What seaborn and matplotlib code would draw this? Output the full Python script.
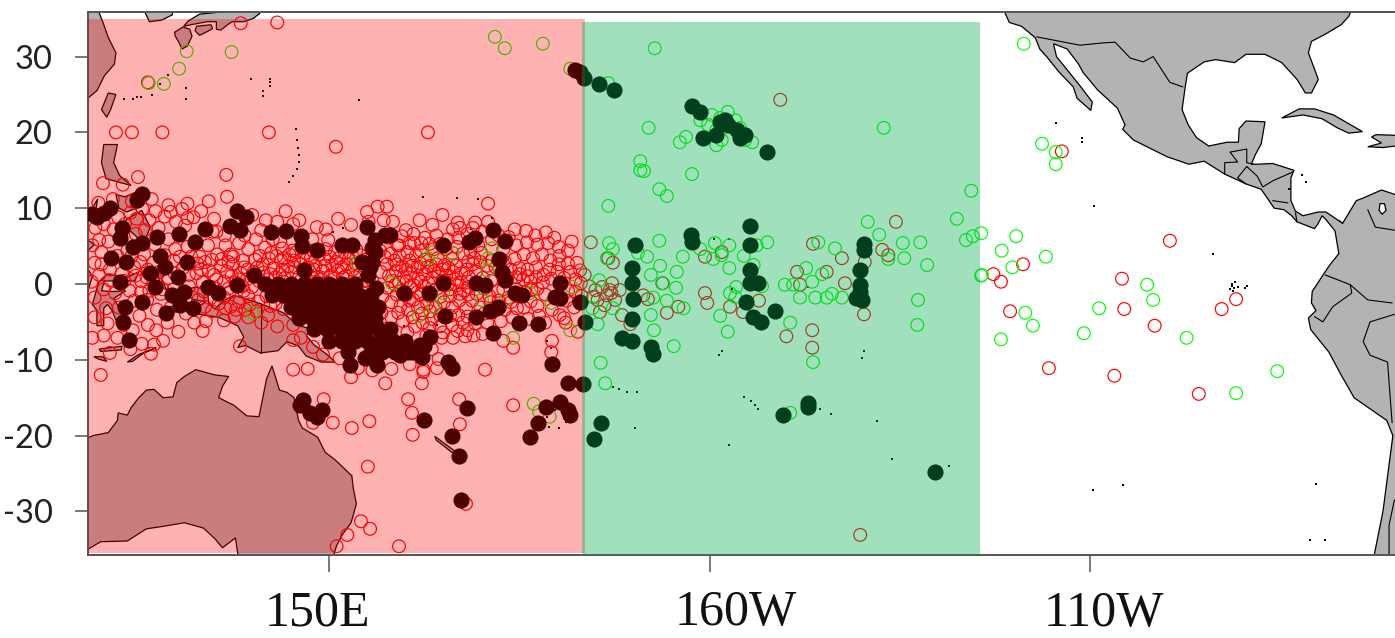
#!/usr/bin/env python3
"""Map of tropical Pacific stations: open circles, filled clusters and two shaded basins."""

import matplotlib
matplotlib.use("Agg")
import matplotlib.pyplot as plt
import pandas as pd
import seaborn as sns
from matplotlib.patches import Polygon, Rectangle

# longitudes run 0-360 so the date line sits in the middle
red_far = [
    (138.4, 34.4), (143.2, 34.5), (126.2, 26.6), (122, 20), (124.1, 20), (128.1, 20), (142.1, 20), (150.9, 18.1),
    (163, 20), (136.5, 14.4), (136.6, 11.5), (124.9, 14.1), (120.3, 13.3), (122.9, 13.1), (144.3, 9.6), (155, 9.5),
    (156.4, 10.2), (157.6, 10.2), (151.2, 8.6), (148.4, 7.5), (120, -12), (138.3, -8.2), (145.3, -11.3),
    (145.3, -7.4), (137.1, -3), (142, -4.1), (132.3, -5.1), (127.3, -6.1), (124.2, -6.1), (127, -8), (152.9, -12.3),
    (157.4, -13.1), (162.2, -13.1), (160.4, -15.2), (160.9, -17), (161, -19.9), (155.3, -18.1), (153, -19),
    (150.5, -18.3), (147.9, -18.3), (149.3, -15.2), (155.1, -24.1), (154.2, -31.3), (155.4, -32.3), (152.4, -33.1),
    (151, -34.6), (159.2, -34.6), (162.4, -11.3), (168, -29), (170.9, 10.6), (170.5, -11.3), (164.2, -11.1),
    (162.4, -11.6), (174.2, -16), (167.1, -15.2), (167.2, -18.5), (179.3, -7.5), (179.2, -9), (174.2, -8.4),
    (172.9, -7.5), (182.7, -6.3), (180.9, -4.5), (146.7, -15.6), (147.2, -11.2),
]
red_east = [
    (209.3, 24.3), (219.8, -33.1), (184.4, 5.5), (187.3, 2.8), (186.7, 3.4), (183.6, 1.2), (201.6, 4.2), (199.4, 3.6),
    (187.2, 0.1), (186.5, -1.5), (184.7, -1.7), (188.2, -0.8), (185.9, -0.4), (193.8, 0.1), (191.3, -1.5), (191.9, -2),
    (188.5, -4.1), (189.6, -5.3), (194.4, -3.8), (195.9, -3), (185.6, -3.7), (199.4, -1.2), (199.7, -2.5), (202.7, -3),
    (204.4, -3.7), (206.5, -2.2), (213.6, 5.3), (211.5, 1.6), (211.9, -0.1), (215.4, 1.6), (217.4, 3.4), (222.7, 4.5),
    (223.5, 3.8), (224.5, 8.2), (220.4, 2.9), (217.8, 0.1), (220.3, -4), (210.1, -6.9), (213.5, -6.1), (213.5, -8.4),
    (185, -0.8), (186.9, -0.8), (187.6, -2.1), (185.3, -2.1), (186.2, -2.8), (187.1, -1.2), (184.2, -0.3),
    (246.3, 17.5), (260.5, 5.7), (254.2, 0.7), (241.2, 2.6), (237.3, 1.3), (238.3, 0.3), (239.5, -3.6), (254.5, -3.3),
    (258.5, -5.5), (267.3, -3.3), (269.2, -2), (244.6, -11.1), (253.2, -12.1), (264.3, -14.5),
]
red_band_west = [
    (118.6, 9.2), (119.3, 7.4), (119.8, 5.8), (120.4, 7.9), (118.9, 5.1), (120.1, 4.2), (119.2, 2.8), (121, 5.6),
    (121.7, 7.2), (122.3, 8.8), (123.2, 7.9), (123.9, 9.4), (124.7, 8.6), (125.5, 9.9), (126.4, 8.4), (127.2, 9.6),
    (125.8, 7.1), (124.6, 6.6), (127.6, 7.4), (128.4, 8.9), (129.2, 9.5), (129.9, 8.2), (130.7, 9.9), (131.4, 8.7),
    (132.2, 8.8), (131.1, 7.7), (128.9, 5.9), (127.1, 5.2), (125.7, 3.9), (123.5, 4.4), (122.2, 3.7), (121.2, 1.9),
    (119.8, 1.2), (122.8, 1.4), (124.4, 2.2), (126.2, 1.9), (128.4, 3.8), (129.8, 4.6), (131.4, 4.9), (133, 3.6),
    (134.1, 5.1), (135.3, 3.9), (136.4, 5.1), (135.8, 2.4), (134.2, 1.8), (132.6, 1.4), (130.8, 2.1), (128.9, 0.8),
    (127.2, 0.6), (125.3, 0.4), (123.8, -0.9), (121.9, -1.2), (120.4, -0.7), (119.2, -1.8), (120.7, -3.2),
    (122.4, -3.1), (124.4, -2.2), (126.1, -2.1), (127.9, -1.3), (129.6, -0.7), (131.6, -0.3), (133.4, 0.2),
    (135.2, 0.6), (136.6, 1.6), (132.8, -2.1), (134.4, -1.9), (136.2, -1.8), (127.4, -3.4), (129.2, -3.1),
    (131.2, -3.9), (125.1, -4.2), (123, -5.4), (120.9, -5.2), (126.2, -5.4), (128.8, -5.1), (134.6, -3.6),
    (136.4, -3.2), (138.2, -2.4), (139.6, -2.7), (138.8, -0.9), (130.2, -6.3), (133.8, -4.9), (122.2, -7.1),
    (125.4, -7.9), (121.2, -9.1), (126.6, -9.2), (128.2, -7.5), (133.4, -6.2), (136.2, -4.8),
    (133.2, 9.6), (134.9, 8.6), (135.2, 6.9), (136.3, 6.4), (134.7, 6.9), (137.1, 3.9), (138.2, 5.4), (139.4, 4.6),
    (140.4, 5.9), (141.6, 4.8), (142.6, 5.9), (143.9, 4.7), (145.2, 4.4), (140.3, 3.2), (142.1, 3.4), (143.7, 3.1),
]
red_band_mid = [
    (137.4, 2.6), (138.7, 3.1), (139.3, 1.9), (140.6, 2.2), (141.4, 1.5), (142.7, 2.1), (143.5, 1.3), (144.6, 2.3),
    (145.4, 3.1), (146.3, 2.6), (147.6, 3.4), (148.2, 2.4), (149.4, 3.3), (150.4, 2.5), (151.3, 3.4), (152.3, 2.6),
    (153.2, 3.5), (154.1, 3.8), (146.9, 4.1), (149.6, 4.6), (150.8, 4.2), (152.1, 4.1), (153.6, 4.5), (154.8, 3.2),
    (137.2, 1.1), (138.4, 1.4), (139.2, 0.6), (140.2, 1), (141.9, 0.6), (143, 0.9), (144.2, 0.8), (145.1, 1.6),
    (146.1, 1), (147.5, 1.6), (148.4, 0.9), (149.2, 1.7), (150.2, 1.1), (151.2, 1.8), (152.2, 1.1), (153.1, 1.9),
    (154.1, 1.3), (136.8, -0.6), (138.6, -0.3), (139.9, -0.4), (137.4, 3.6), (143.6, 5.6), (147.8, 5.9), (149.9, 5.8),
    (139.4, -1.6), (140.7, -2.3), (141.8, -1.6), (143, -2.6), (144, -3.3), (137.6, -4.3), (139.4, -4.4), (141.1, -5.1),
    (143.2, -5.6), (145.3, -5.4), (146.3, -7.1), (147.9, -8.3), (149.2, -9.3), (151.4, -9.8), (155.2, 8.2), (158.1, 4),
    (159, 5.1), (160.3, 4.2), (161.2, 5.4), (162.1, 4.4), (157.6, 2.6), (158.6, 3.1), (159.6, 2.3), (160.6, 3.1),
    (161.6, 2.2), (162.6, 3.2), (163.4, 2.4), (164.3, 3.4), (165.2, 2.5), (166.2, 3.3), (157.9, 1.1), (158.8, 1.7),
    (159.8, 0.9), (160.7, 1.4), (161.7, 0.7), (162.6, 1.3), (163.6, 0.8), (164.4, 1.5), (165.4, 1.1), (166.3, 1.6),
    (157.7, -0.5), (158.7, -0.1), (159.6, -0.9), (160.7, -0.4), (161.6, -1.1), (162.5, -0.3), (164.2, -0.6),
    (165.9, -0.7), (166.8, -0.2), (167.7, -0.9), (158.2, -2.4), (159.4, -2.9), (160.6, -2.2), (161.7, -3.1),
    (162.9, -2.6), (164, -3.1), (165.1, -2.4), (166.2, -3.1), (167.1, -2.2), (168, -3.2), (158.2, -4.4), (159.7, -4.9),
    (161, -4.4), (162.3, -5.1), (163.5, -4.6), (164.6, -5.6), (166.2, -5.4), (167.6, -5.1), (160.3, -6.4),
    (162.8, -6.8), (164.8, -7.1), (166.3, -7.1), (167.9, -6.9), (157.8, 6.1), (159.6, 6.3), (161.1, 6.6), (162.6, 6.1),
    (164.1, 6.4), (165.6, 5.9), (167, 6.1), (163.2, 5.3), (165.3, 4.6), (166.8, 4.9), (167.6, 4), (168.3, 3),
    (160.1, 7.1), (163.6, 7.8), (166.3, 7.2), (158.4, 8.2), (155.7, 0.4), (154.4, -1.1), (156.8, 1.6), (157.3, 3.6),
    (156.7, 4.4), (157, -1.7), (155.9, -2.6), (156.9, -3.8), (157.2, -5.9), (158.1, -6.9), (159.9, -8.1),
    (161.5, -9.1), (163.5, -8.6), (164.4, -9.9), (160.6, -10.6), (158.2, -11.2), (155.7, -11.4), (153.8, -11.1),
]
red_band_east = [
    (168.4, 0.9), (169.3, 1.6), (169.4, -1.3), (170.4, -0.6), (170.2, 0.8), (171.3, 0.4), (171.1, -1.6), (172.2, -0.9),
    (172.9, -0.7), (168.8, -2.2), (169.9, -3.1), (171.2, -2.4), (172.3, -2.2), (173.1, -3.4), (173.9, -2.4), (174.7, -3.2),
    (175.6, -3.1), (176.5, -2.3), (177.4, -2.9), (178.4, -1.4), (177.4, -0.6), (176.5, 0.3), (175.5, 0.6), (174.6, 0.9),
    (173.9, 1.9), (175, 2.1), (176.1, 1.9), (177.2, 2.2), (178.2, 1.2), (179.2, 0.7), (180, 1.6), (180.9, 0.8),
    (181.7, 1.6), (182.4, 0.6), (181.4, -0.9), (182.4, -1), (183.1, 0.1), (183, 1.8), (174.4, 3.3), (175.6, 3.9),
    (176.8, 3.4), (178, 3.9), (179.1, 3.1), (180.3, 3.7), (181.4, 4.4), (177.4, 5.2), (178.8, 5.4), (180.2, 4.9),
    (174.6, 5.1), (176, 5.5), (169.9, 2.9), (168.6, 4.3), (170, 4.1), (171.4, 3.1), (172.9, 4.6), (168.2, 6.6),
    (166.9, 8.1), (170.2, 6.9), (171.4, 5.9), (174.4, 7.2), (175.9, 7), (178.5, 6.8), (177.6, -4.2), (176.2, -4.6),
    (174.1, -4.4), (172.6, -4.9), (170.8, -5.1), (169.2, -5.2), (168.2, -6.1), (170.2, -6.6), (181.2, -2.2),
    (182.2, -3.1), (179.3, -3.4), (180.3, -4.1), (181.1, -5.1), (178.4, -5.1), (183.2, -1.6), (182.6, 2.8), (169.2, 8.1),
]
red_band_core = [
    (136.2, 0.3), (137.7, 0.2), (138.9, 2.2), (140.1, 1.6), (140.9, 3.7), (141.3, 2.6), (142.4, 4.1), (143.1, 3.7),
    (144.1, 3.4), (144.8, 3.9), (145.7, 4.2), (146.6, 3.4), (147.2, 2.2), (147.9, 4.4), (148.7, 3.9), (149.5, 2.4),
    (150.1, 3.6), (150.9, 2.9), (151.7, 2.2), (152.6, 3.3), (153.5, 2.7), (154.5, 2.4), (138.2, 0.6), (140.8, 0.4),
    (142.3, 1.3), (143.9, 1.9), (145.6, 2.2), (146.8, 1.6), (148, 1.9), (149, 0.6), (150.7, 0.7), (151.9, 0.8),
    (153.4, 0.9), (154.6, 0.4), (129.6, 3.1), (130.4, 3.6), (131.9, 3.6), (132.7, 2.7), (133.7, 2.9), (134.6, 3.2),
    (135.9, 3.3), (136.8, 2.9), (126.9, 2.8), (125.2, 2.9), (124, 3.6), (123.1, 0.4), (124.6, 1.1), (126, 0.9),
    (127.7, 1.6), (129.7, 1.4), (131.6, 1.2), (133.2, 1.9), (134.9, 1.2), (128.1, -0.7), (130, -1.9), (131.9, -1.7),
    (133.6, -1), (135.1, -0.6), (136.9, -1.1), (125.3, -1.1), (126.4, -0.9), (121.2, 0.5), (120.1, 2.6), (118.8, 0.3),
    (137.8, -3.4), (139, -3.4), (140.5, -3.6), (142.3, -2.9), (135.5, -2.6), (133.7, -3), (158.9, 2.6), (159.3, 3.7),
    (160.1, 1.9), (160.9, 2.4), (161.4, 3.7), (162, 2.7), (162.9, 2.2), (163.8, 1.7), (164.1, 2.6), (164.9, 1.9),
    (165.7, 2.1), (166.7, 2.4), (167.4, 1.4), (168.1, 1.9), (168.9, 2.6), (158.3, 0.4), (159.2, 0.2), (160.2, 0.4),
    (161.2, -0.2), (162.1, 0.3), (163.1, 0.1), (164.9, 0.4), (165.6, -0.1), (166.6, 0.6), (167.4, 0.2), (168.3, -0.4),
    (158.9, -1.4), (160.1, -1.5), (161.1, -2.1), (162.1, -1.4), (163.2, -1.6), (164.6, -1.7), (165.9, -1.6), (167.2, -1.3),
    (168.3, -1.4), (159.1, -3.8), (160.4, -3.4), (162.2, -3.9), (163.3, -3.6), (164.6, -4.1), (165.9, -4.2), (167, -4.1),
    (168.2, -4.3), (161.3, -5.6), (163.2, -5.8), (165, -6.4), (166.9, -6.2), (169, -6.8), (159.2, 5.1), (160.6, 5.4),
    (162.1, 5.4), (163.8, 4.6), (164.6, 5.3), (166.2, 4.1), (169.1, 3.4), (169.6, 5.1), (170.8, 2.4), (171.9, 2.2),
    (173.1, 2.9), (173.4, 0.9), (174.6, -0.7), (175.7, -1.1), (176.6, -0.8), (177.2, 0.9), (178.1, 0.2), (179, 1.9),
    (180.2, 2.6), (181.4, 2.7), (176.1, 1), (175.1, 1.3), (173.6, -1.8), (174.8, -1.6), (171.9, -3.5), (170.4, -3.9),
    (172.3, 6.4), (173.6, 6.2), (177.1, 6.4), (179.6, 6.1), (181.9, 5.6), (168.9, 7.4), (167.2, 7.4), (170.9, 8.2),
    (121.6, 11.2), (119.7, 10.7), (124.1, 10.9), (126.7, 11.2), (128.9, 10.4), (131.4, 10.6), (134.2, 10.9),
    (138.9, 6.4), (141.1, 7.1), (143.2, 8.2), (145.3, 7.9), (146.1, 8.4), (149.6, 7.2), (152.9, 7.8), (157.2, 8.4),
    (161.9, 8.4), (164.9, 9.1), (139.9, 9.1), (141.7, 8.4), (120.4, -6.8), (119.2, -4.4), (118.9, -7.1), (123.9, -8.6),
]
green_west = [
    (131.3, 30.7), (137.2, 30.6), (130.3, 28.4), (126.3, 26.5), (128.3, 26.4), (181.7, -6.1), (174.2, -7.1),
    (176.9, -15.8), (179, -17.5), (176.4, -1.2), (181.9, -0.4), (179.2, -2.5), (170.1, -2.1), (173.3, -2), (163.7, -3),
    (170.9, 3.4), (171.4, 4.7), (170.8, 1.8), (166.2, 4.1), (163.7, 4.2), (165, -1.2), (153.8, 2.8), (158.3, 0.1),
    (163, 3.4), (161.8, -4.2), (140, -3.8), (171.8, 32.6), (173.1, 31.1), (178.1, 31.7), (181.7, 28.4), (177.6, -16.8),
]
green_east = [
    (193.4, 12.5), (194.4, 11.6), (186.7, 10.3), (186.8, 5.4), (187.3, 4.6), (193.4, 5.7), (191.8, 3.6), (190.6, 4.1),
    (196.5, 3.6), (200.7, 5.4), (202.6, 5.1), (204.5, 3.7), (206.2, 5.1), (207.6, 5.5), (198.8, 4.6), (200.5, 3.3),
    (201.6, 3.8), (202.6, 2.1), (205.8, 2.5), (186.5, 3.4), (195.7, 1.6), (193.5, 2.4), (192.3, 1.2), (193.9, 0.1),
    (195.6, -0.5), (185.5, 0.5), (194.4, -2.2), (192.6, -1.8), (196.6, -3.2), (187.3, -3.2), (184.6, -3.2),
    (185.3, -5.3), (192.3, -4.1), (192.7, -6.1), (195.3, -8.2), (185.7, -10.4), (186.3, -13.1), (201.4, -4.2),
    (202.4, -6.3), (202.7, -1.2), (203.5, -0.4), (206.9, -0.3), (203.4, -1.7), (186.7, 26.5), (192.8, 31.1),
    (190.9, 16.2), (190.9, 15), (191.4, 14.9), (192, 20.6), (196.1, 18.7), (197.7, 14.5), (196.9, 19.4), (222.9, 20.6),
    (200.3, 22.3), (201.4, 21.9), (202.4, 22.7), (203.4, 21.6), (199.8, 21), (200.9, 20.3), (201.6, 19), (204.7, 19),
    (205.6, 18.7), (204, 20.6), (198.8, 21.6), (202, 21.4), (200.9, 18.3), (214.3, 5.5), (216.5, 4.7), (212.7, 2.1),
    (213.5, 0.3), (214.8, 1.3), (209.9, -0.1), (211, -0.1), (211.9, -1.8), (213.9, -1.8), (215.4, -1.8), (216.1, -1.3),
    (217.4, -1.8), (220.8, 8.2), (222.3, 6.5), (223.5, 3.3), (225.4, 5.4), (225.6, 3.4), (227.7, 5.5), (228.6, 2.5),
    (227.4, -2.1), (227.3, -5.4), (232.5, 8.6), (234.4, 12.3), (233.7, 5.8), (234.6, 6.3), (235.7, 6.7), (235.7, 1.1),
    (210.6, -5.1), (213.6, -10.3), (210.6, -17), (241.3, 31.7), (243.7, 18.5), (245.5, 17.4), (245.5, 15.8),
    (240.3, 6.3), (238.4, 4.4), (244.2, 3.6), (239.8, 2.2), (235.8, 1.2), (257.5, -0.1), (258.3, -2.1), (251.2, -3.2),
    (241.5, -3.8), (242.5, -5.5), (238.3, -7.3), (249.2, -6.5), (262.7, -7.1), (274.6, -11.5), (269.2, -14.4),
]
dark_west = [
    (182.3, 28.2), (183, 28), (125.4, 11.9), (124.8, 11.1), (120.4, 9.4), (119.5, 8.8), (121.2, 10), (118.9, 9.2),
    (122.5, 6.1), (122.8, 7.4), (124.2, 4.9), (125.4, 5.4), (127.4, 6.2), (130.3, 6.6), (133.7, 7.3), (132.4, 5.5),
    (131.3, 2.9), (127.8, 3.7), (128.4, 2.2), (126.5, 1.5), (121.4, 3.4), (123.3, 2.9), (130.2, 0.9), (127.1, -0.4),
    (122.5, 0.3), (137, 7.7), (137.9, 9.6), (139.1, 8.8), (138.3, 7.1), (142.4, 6.9), (144.3, 7), (146.3, 6.3), (146.5, 5),
    (148.4, 4.5), (151.7, 5.1), (153, 5.1), (155, 7.5), (158, 6.5), (155.7, 4.7), (155.4, 2.2), (146.7, 1.8), (140.1, 1.2),
    (134.1, -0.4), (135.4, -1.2), (137.9, -0.1), (159.9, -1.2), (123.7, -7.4), (122.9, -5), (123.2, -3), (125.4, -2.4),
    (128.6, -3.8), (130.4, -2.8), (132.1, -3.2), (129.4, -1.5), (131, -1), (156, 5.8), (156, 4.2), (155.7, 2.9),
    (155.1, 1.2), (156.2, -0.5), (154.3, 2.9), (157.4, 6.5), (165, 5.1), (168.4, 5.5), (169.2, 6.1), (171.6, 7.1),
    (173.1, 5.7), (172.3, 3.3), (172.7, 1.6), (173.1, 0.5), (174.4, -1.2), (175.4, -1.5), (169.3, 0.1), (170.5, -0.1),
    (165, 0.1), (163.1, -1.2), (165.2, -4.2), (169.3, -4.4), (171.2, -3.6), (172.2, -3), (175, -5.1), (177.5, -5.3),
    (171.6, -6.5), (180.4, 0.1), (179.7, -1.7), (180.4, -1.8), (183, -2.4), (183.6, -5), (162.5, -8.2), (162.2, -9.6),
    (165.6, -10.3), (166.2, -11.1), (179.3, -10.6), (181.4, -13.1), (183.4, -13.2), (168.1, -16.4), (178.5, -16.2),
    (180.4, -15.6), (181.4, -16.6), (181.7, -17.3), (177.5, -18.3), (176.4, -20.2), (162.5, -17.9), (166.2, -20.1),
    (167.1, -22.7), (167.3, -28.5), (146.6, -15.3), (146.2, -16), (147.5, -17), (148.4, -17.5), (149.1, -16.6),
    (157.4, -8.7), (159.3, -9.4), (160.9, -9), (162, -8), (163.3, -7), (152.8, -10.7), (154.7, -9.8), (156.3, -10.7),
]
dark_blob = [
    (141.6, 0), (143.3, 0), (145, 0), (146.7, 0), (148.4, 0), (150, 0), (151.7, 0), (153.4, 0),
    (142.5, -1.5), (144, -1.5), (145.7, -1.5), (147.4, -1.5), (149, -1.5), (150.7, -1.5), (152.4, -1.5), (154, -1.5), (155.5, -1.5),
    (145, -3), (146.7, -3), (148.4, -3), (150, -3), (151.7, -3), (153.4, -3), (155, -3), (156.5, -3),
    (146, -4.5), (147.7, -4.5), (149.4, -4.5), (151, -4.5), (152.7, -4.5), (154.4, -4.5), (156, -4.5),
    (148, -6), (149.7, -6), (151.4, -6), (153, -6), (154.7, -6), (156.4, -6), (158, -6),
    (150, -7.5), (151.7, -7.5), (153.4, -7.5), (155, -7.5), (156.7, -7.5), (158.4, -7.5), (160, -7.5),
    (152.5, -9), (155.5, -9), (157, -9), (158.7, -9), (160.4, -9),
]
dark_east = [
    (183.5, 27.2), (185.5, 26.4), (187.5, 25.6), (185.7, -18.3), (184.8, -20.4), (189.8, 2.1), (189.8, 0.1), (189.9, -2),
    (189.8, -4.6), (190.2, 5.1), (188.5, -7.1), (189.8, -7.5), (192.3, -8.3), (192.6, -9.2), (197.6, 6.5), (197.7, 5.5),
    (205.3, 7.7), (205.3, 5.1), (205.3, 1.8), (205.3, 0.1), (206.4, 0.1), (204.8, -2.4), (205.7, -4.4), (206.8, -5),
    (208.6, -3.6), (220.3, 5.3), (220.3, 4.5), (219.8, 1.8), (219.8, -0.1), (219.8, -1.1), (220, -2.1), (219.3, -1.8),
    (212.9, -15.7), (212.9, -16.2), (209.7, -17.3), (229.6, -24.8), (197.7, 23.5), (198.8, 22.7), (201.4, 21.4),
    (202.4, 21), (203.6, 20.3), (204.7, 19.7), (199.1, 19.3), (200.9, 19.7), (204, 19.3), (207.6, 17.4), (202, 21.6),
]

# land outlines
australia = [
    (118.3, -20.3), (119, -20), (121, -19.6), (122.2, -18), (122.3, -17), (123.5, -17.3), (124, -16.3), (125, -15),
    (126, -14), (127, -13.9), (128.2, -15), (129.5, -14.9), (130, -13), (131, -12.2), (132.5, -11.3), (135, -12),
    (136.8, -12.2), (136, -13.5), (135.5, -15), (137.5, -16), (139.2, -17.4), (140.8, -17.5), (141.5, -14),
    (141.8, -12.5), (142.5, -10.8), (143.5, -14), (144.5, -14.3), (145.4, -15), (146, -18), (146.5, -19), (148.5, -20.2),
    (149.5, -22.2), (150.8, -23.2), (153, -25.3), (153.2, -27), (153.6, -29), (152.9, -31.5), (151.8, -33), (151, -34.5),
    (150.4, -36.5), (138.5, -36.5), (138, -35.5), (137.7, -33.5), (136, -34.8), (135, -33.6), (133.5, -32.2), (131, -31.5),
    (128, -32), (126, -32.3), (123.5, -33.9), (120, -34), (118.3, -35),
]
new_guinea = [
    (131, -0.8), (132.5, -0.4), (134, -0.8), (134.2, -2.5), (135, -3.3), (136, -2.3), (137.5, -1.5), (138.5, -1.8),
    (141, -2.6), (144, -3.8), (145.8, -5.4), (147.8, -6), (147, -6.8), (148, -8), (150, -9.5), (150.8, -10.3), (149, -10.3),
    (147, -9.5), (146, -8.2), (144.5, -7.6), (143.3, -8.8), (141, -9.1), (139, -8.1), (138, -8.4), (138.8, -7), (138, -5.5),
    (135.5, -4.4), (133, -4), (132.8, -2.9), (133.8, -2.4), (132, -2),
]
china = [(118.3, 36.5), (118.3, 24.5), (119.5, 25.5), (120.5, 27.5), (121.8, 29), (122, 30.5), (121, 32.5), (120.3, 34.5), (119.5, 36.5)]
taiwan = [(120.1, 23), (121, 25.2), (122, 25), (121.3, 23), (120.8, 22)]
luzon = [(120.4, 18.4), (122.2, 18.4), (121.7, 16), (122.5, 14.3), (124, 13), (122.5, 13.4), (120.7, 13.9), (120.1, 16)]
mindanao = [(122.1, 7), (123.5, 8.6), (125.4, 9.7), (126.5, 7.5), (126, 6.2), (125.3, 5.7), (124, 6.9)]
visayas = [(122, 11.8), (123.2, 11.5), (125.5, 12.5), (125.2, 10.2), (123.4, 9.5), (122.4, 10)]
palawan = [(117.5, 8.3), (118.3, 9), (119.6, 11.2), (119.4, 10), (118.3, 8.3)]
borneo = [(118.3, 5.8), (119.2, 5.2), (118.3, 4.4), (118, 2.5), (118.9, 1), (118.3, -1)]
sulawesi = [
    (119.7, 0.2), (120.8, 1.3), (123.5, 0.9), (125, 1.6), (124.5, 0.4), (120.5, 0.4), (120.1, -0.9), (121.5, -1),
    (123.3, -0.9), (121.7, -1.9), (122.5, -3.3), (123, -4.6), (122, -4.8), (121.5, -3.5), (120.9, -2.7), (120.4, -3.2),
    (120.4, -5.5), (119.5, -5.5), (119.5, -3.5), (118.9, -2.7), (119.3, -1.3),
]
halmahera = [(127.5, 2), (128.5, 1.6), (128, 0.6), (128.7, -0.8), (127.8, -0.2), (127.6, 1)]
seram = [(127.9, -3.1), (130, -2.9), (130.8, -3.8), (128.5, -3.5)]
timor = [(123.5, -10.3), (125, -9.3), (127.3, -8.4), (125.5, -9.2), (124.2, -10.2)]
flores = [(119.8, -8.6), (122.8, -8.2), (122.7, -8.7), (120, -8.9)]
sumba = [(119.1, -9.6), (120.3, -9.6), (120.8, -10.2), (119.7, -9.9)]
kyushu = [(129.7, 33.2), (130.8, 33.9), (131.7, 33.6), (132, 32.7), (131.4, 31.4), (130.7, 31), (130.2, 32), (129.8, 32.7)]
shikoku = [(132.4, 33.4), (132.6, 34), (134.5, 34.2), (134.7, 33.7), (134, 33.3), (133, 32.8)]
honshu = [
    (130.9, 34), (132.4, 34.3), (134, 34.6), (135.2, 34.6), (135.2, 33.6), (135.8, 33.5), (136.8, 34.3), (137.3, 34.6),
    (138.8, 34.6), (140, 35), (140.9, 35.7), (140.6, 36.5), (136, 36.5), (136, 35.9), (133, 35.6), (131.5, 34.7),
]
korea = [(125.5, 36.5), (126.4, 34.6), (128, 34.8), (129.4, 35.5), (129.5, 36.5)]
new_britain = [(148.4, -5.6), (150.2, -5.5), (152.2, -4.2), (152.2, -5.2), (150.8, -6.2)]
new_ireland = [(150.7, -2.6), (152.3, -3.4), (153.1, -4.7), (152.2, -3.9)]
solomons = [(159.5, -8.2), (160.8, -9.2), (160.8, -9.8), (159.6, -9.4)]
bougainville = [(154.7, -5.2), (155.9, -6.4), (155.3, -6.8), (154.8, -5.9)]
new_caledonia = [(163.9, -20.1), (166.9, -22.3), (166.4, -22.4), (164.1, -20.6)]
americas = [
    (238.5, 36.5), (239.4, 34.5), (241, 34), (242.8, 32.5), (243.4, 31), (244.3, 30), (245.9, 28), (247.8, 26),
    (248.3, 24.5), (250.1, 22.9), (250.3, 24), (248.8, 26), (247.2, 28), (245.6, 30), (245.2, 31.7), (247, 31),
    (248.5, 29), (249.1, 27.9), (251, 25.6), (253.6, 23.2), (254.6, 21), (254.3, 20.4), (255.7, 19), (260.1, 16.8),
    (263, 15.8), (265, 16.2), (267.7, 14.5), (270.5, 13.2), (272.5, 12.5), (274.2, 10), (275.5, 9.8), (276.5, 9),
    (277.2, 8.2), (279.5, 7.3), (280, 8), (280.5, 9), (281, 8.5), (282.2, 7), (282.7, 4), (281.5, 2.5), (280.5, 1),
    (279.2, -1), (279.1, -2.5), (279.7, -3.5), (278.7, -4.5), (279, -6), (281.4, -9), (283, -12), (284.7, -15),
    (289, -18), (289.8, -20), (288.5, -30), (287.2, -36.5), (291, -36.5), (291, 11.5), (288.3, 12.4), (285.8, 11.3),
    (285, 11), (283.2, 8), (281, 9.5), (280, 9.5), (278, 9), (277, 9.6), (276.4, 11), (276.4, 14), (276.8, 15),
    (274, 15.9), (272, 15.8), (271.2, 15.8), (271.7, 17), (272.5, 18.5), (273, 21.4), (270.5, 21.5), (269.6, 20.5),
    (269.5, 18.7), (268, 18.7), (265.6, 18.2), (264, 19.3), (262.9, 21), (262.1, 23), (262.5, 25.9), (262.8, 27.8),
    (265, 29.3), (266.5, 29.6), (269, 29.2), (270.5, 30.3), (273, 30.3), (275.2, 29.2), (277.2, 27), (278.3, 25.2),
    (279.1, 25.2), (280, 27), (278.7, 30.5), (279.1, 32), (281, 33), (283, 34.2), (284, 35.3), (284.5, 36.5),
]
cuba = [(275.2, 21.9), (277.5, 23.1), (279.5, 23.1), (282, 22.3), (285.8, 20.1), (284, 19.9), (282.5, 20.6), (280.5, 21.8), (278, 22.3)]
hispaniola = [(287.6, 19.7), (290.6, 19.6), (291, 18.3), (288.5, 18), (286.5, 18.1), (288.3, 18.6), (287, 19.4)]
land_shapes = [
    australia, new_guinea, china, taiwan, luzon, mindanao, visayas, palawan, borneo, sulawesi, halmahera, seram, timor,
    flores, sumba, kyushu, shikoku, honshu, korea, new_britain, new_ireland, solomons, bougainville, new_caledonia,
    americas, cuba, hispaniola,
]
maracaibo = [(288.1, 10.6), (288.7, 10.6), (288.9, 9.7), (288.4, 9.2), (288, 9.7)]
borders = [
    [(141, -2.6), (141, -9.1)],
    [(243, 32.6), (248.7, 31.5), (251.7, 31.8), (253.3, 31.9), (255.3, 29.8), (257, 29.3), (258.3, 30), (260.5, 26.6), (262.2, 26)],
    [(267.7, 14.5), (267.7, 16), (269.4, 16.1), (268.4, 17.4), (270.6, 17.8), (270.6, 16), (271.5, 15.8)],
    [(270.6, 15.5), (269.4, 14), (270.5, 13.2)],
    [(270.6, 15.5), (272, 14.2), (272.7, 12.8), (274, 13.6), (276.7, 14.8)],
    [(274, 11), (276, 10.7)],
    [(277, 9.4), (277.2, 8.2)],
    [(282.7, 8.4), (283.2, 8)],
    [(280.9, 1.2), (284.2, -0.1), (284.4, -1.2), (281.9, -3), (280.6, -5), (279.5, -4.3)],
    [(284.2, -0.1), (286.5, -2.1), (289.7, -2.5)],
    [(290, -4), (286.8, -5), (285.9, -7.6), (286.8, -9.4), (289.1, -10.3), (289.7, -18.3)],
    [(290, -28.5), (289.3, -31.8), (289.3, -36.5)],
    [(286.5, 9.8), (287.5, 7.5), (290, 7.1)],
]
islands = [
    (123, 24.4), (124.2, 24.4), (124.8, 24.7), (125.3, 24.7), (126.8, 24.9), (127.8, 26.4), (128.9, 27.6), (131.2, 25.8),
    (131.2, 24.4), (139.8, 27.1), (142.2, 27.1), (141.3, 24.8), (142.2, 26.6), (142.2, 26.1), (141.3, 25.4), (153.9, 24.3),
    (145.7, 20.4), (145.8, 19), (145.9, 18), (146, 17), (146, 16.1), (145.8, 15.2), (145.3, 14.2), (144.8, 13.4),
    (134.5, 7.4), (138.1, 9.5), (150.5, 6.9), (151.8, 7.4), (158.2, 6.9), (163, 5.3), (171.2, 7.1), (168.7, 7.3), (169.6, 6),
    (171.4, 8.7), (166.8, 11.4), (162.3, 11.5), (169.6, 11.2), (173, 1.4), (175, -1.3), (176, -1.4), (178.7, -7.5),
    (179.2, -8.5), (177.4, -18.1), (178.6, -17.6), (179.7, -16.6), (181, -16.8), (180.2, -19), (181.2, -18.2), (178.9, -18.9),
    (184.8, -21.2), (185.5, -19.8), (187.3, -13.6), (188.1, -13.9), (189.2, -14.2), (190.5, -14.3), (190.2, -19),
    (201.2, -9.4), (201.6, -8.9), (202.5, -21.2), (204.5, -14.9), (205.4, -15.4), (206, -16), (206.4, -16.5), (209.8, -17.6),
    (210.4, -17.8), (214.5, -16.5), (216, -17.2), (220.3, -8.9), (220, -9.7), (222, -18.1), (224, -23.1), (231.5, -24),
    (197.5, 4.8), (200.6, 5.9), (202.6, 5.9), (203, -0.7), (213, -0.4), (164.2, -5.4), (166.9, -0.5), (159.9, -5.5),
    (250.4, -27.2), (254.3, -26.5), (279.7, -26.4), (278.9, -33.8), (280.9, -33.8), (250.5, 10.3), (249, 19.2), (249, 18.7),
    (245.5, 21.3), (266.1, 3.9), (268.4, -0.6), (268.6, -0.2), (268.9, -0.5), (268.7, 0), (269, 0.3), (270.4, -0.5), (270.6, -0.2),
    (268.8, -0.9), (269.4, -0.4), (276.2, 12.5), (278.4, 13.4), (277.9, 14.4),
]
x_ticks = [150, 200, 250]
y_ticks = [-30, -20, -10, 0, 10, 20, 30]
y_tick_labels = ['-30', '-20', '-10', '0', '10', '20', '30']

def to_df(points):
    return pd.DataFrame(points, columns=['lon', 'lat'])

sns.set_style('white')
plt.rcParams['font.family'] = ['Lato', 'DejaVu Sans']

fig = plt.figure(figsize=(13.95, 6.38), dpi=100)
ax = fig.add_axes([88 / 1395, 83 / 638, 1307 / 1395, 543 / 638])

for shape in land_shapes:
    ax.add_patch(Polygon(shape, closed=True, facecolor='#b3b3b3', edgecolor='black', linewidth=0.9, zorder=1))
ax.add_patch(Polygon(maracaibo, closed=True, facecolor='white', edgecolor='black', linewidth=0.9, zorder=1.2))
for line in borders:
    ax.plot(*zip(*line), color='black', linewidth=0.8, zorder=1.5)
sns.scatterplot(data=to_df(islands), x='lon', y='lat', ax=ax, color='black', s=4, linewidth=0, marker='s', zorder=2)

red_all = to_df(red_far + red_east + red_band_west + red_band_mid + red_band_east + red_band_core)
green_all = to_df(green_west + green_east)
dark_all = to_df(dark_west + dark_blob + dark_east)

sns.scatterplot(data=red_all, x='lon', y='lat', ax=ax, s=84, facecolors='none', edgecolor='#ff0000',
                linewidth=0.85, zorder=3)
sns.scatterplot(data=green_all, x='lon', y='lat', ax=ax, s=84, facecolors='none', edgecolor='#00ff00',
                linewidth=0.85, zorder=4)
sns.scatterplot(data=dark_all, x='lon', y='lat', ax=ax, s=135, color='black', linewidth=0, zorder=5)

# basins go over the points, that is what tints them
ax.add_patch(Rectangle((118.33, -35.45), 65.3, 70.4, facecolor='#ff0000', alpha=0.3, linewidth=0, zorder=6))
ax.add_patch(Rectangle((183.3, -35.75), 52.2, 70.35, facecolor='#00ab4d', alpha=0.37, linewidth=0, zorder=6))

ax.set_xlim(118.33, 290.08)
ax.set_ylim(-35.75, 35.88)
ax.set_xticks(x_ticks)
ax.set_xticklabels([])
ax.set_yticks(y_ticks)
ax.set_yticklabels(y_tick_labels, fontsize=23.5, color='#222222')
ax.set_xlabel('')
ax.set_ylabel('')
ax.tick_params(axis='y', left=True, length=9.5, width=1.1, color='#555555', pad=16)
ax.tick_params(axis='x', bottom=True, length=12, width=1.1, color='#555555')

for side in ['top', 'left', 'bottom']:
    ax.spines[side].set_visible(True)
    ax.spines[side].set_color('#555555')
    ax.spines[side].set_linewidth(1.4)
ax.spines['right'].set_visible(False)

for label, x_px, base_px in [('150E', 317, 625), ('160W', 736, 625), ('110W', 1104, 626)]:
    fig.text(x_px / 1395, 1 - base_px / 638, label, family='Liberation Serif', fontsize=36, color='#111111',
             ha='center', va='baseline')

fig.savefig('out.png', dpi=100)
